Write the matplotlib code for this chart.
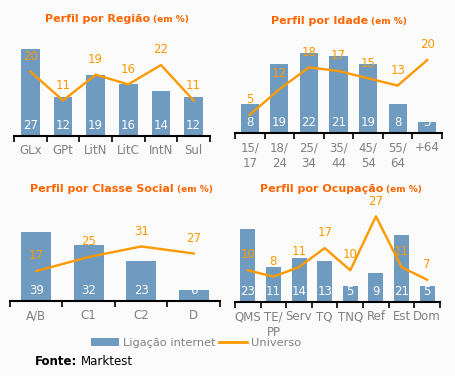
import numpy as np
import matplotlib.pyplot as plt
from matplotlib.patches import Patch
from matplotlib.lines import Line2D

# dados
regiao_cat = ['GLx', 'GPt', 'LitN', 'LitC', 'IntN', 'Sul']
regiao_net = [27, 12, 19, 16, 14, 12]
regiao_uni = [20, 11, 19, 16, 22, 11]

idade_cat = ['15/\n17', '18/\n24', '25/\n34', '35/\n44', '45/\n54', '55/\n64', '+64']
idade_net = [8, 19, 22, 21, 19, 8, 3]
idade_uni = [5, 12, 18, 17, 15, 13, 20]

classe_cat = ['A/B', 'C1', 'C2', 'D']
classe_net = [39, 32, 23, 6]
classe_uni = [17, 25, 31, 27]

ocup_cat = ['QMS', 'TE/\nPP', 'Serv', 'TQ', 'TNQ', 'Ref', 'Est', 'Dom']
ocup_net = [23, 11, 14, 13, 5, 9, 21, 5]
ocup_uni = [10, 8, 11, 17, 10, 27, 11, 7]

azul = '#6f9bc0'
laranja = '#ff9900'
titulo_cor = '#ff6600'
cinza = '#808080'
fundo = '#fbfbfb'

W, H = 456, 376
fig = plt.figure(figsize=(W / 100, H / 100), dpi=100, facecolor=fundo)
renderer = fig.canvas.get_renderer()


def px_axes(x0, x1, ytop, ybase):
    return fig.add_axes([x0 / W, 1 - ybase / H, (x1 - x0) / W, (ybase - ytop) / H])


def dois_textos(x, y, a, b, cor, tam_a, tam_b, peso_b):
    # texto em negrito seguido de texto menor, colocado logo a seguir
    t = fig.text(x / W, 1 - y / H, a, ha='left', va='baseline', color=cor,
                 fontsize=tam_a, fontweight='bold')
    bb = t.get_window_extent(renderer)
    fig.text((bb.x1 + 3) / W, 1 - y / H, b, ha='left', va='baseline', color=cor,
             fontsize=tam_b, fontweight=peso_b)


def painel(ax, cats, net, uni, ymax, largura, titulo, tx):
    n = len(cats)
    x = np.arange(n)
    ax.set_facecolor(fundo)
    ax.bar(x, net, width=largura, color=azul, zorder=1)
    ax.plot(x, uni, color=laranja, lw=1.7, zorder=2)
    for i in range(n):
        ax.annotate(str(net[i]), (x[i], 0), xytext=(0, 7.5), textcoords='offset points',
                    ha='center', va='center', color='white', fontsize=8.5, zorder=3)
        ax.annotate(str(uni[i]), (x[i], uni[i]), xytext=(0, 11), textcoords='offset points',
                    ha='center', va='center', color=laranja, fontsize=8.5, zorder=3)
    ax.set_xlim(-0.5, n - 0.5)
    ax.set_ylim(0, ymax)
    for s in ['top', 'right', 'left']:
        ax.spines[s].set_visible(False)
    ax.spines['bottom'].set_linewidth(1.5)
    ax.set_yticks([])
    ax.set_xticks(x)
    ax.set_xticklabels(cats, color=cinza, fontsize=8.5, linespacing=1.3)
    ax.tick_params(axis='x', which='major', length=0, pad=6)
    ax.set_xticks(np.arange(n + 1) - 0.5, minor=True)
    ax.tick_params(axis='x', which='minor', length=4, width=1.2, color='black')
    dois_textos(tx[0], tx[1], titulo, '(em %)', titulo_cor, 8, 6.5, 'bold')


ax1 = px_axes(14, 210, 36, 136)
painel(ax1, regiao_cat, regiao_net, regiao_uni, 31, 0.58, 'Perfil por Região', (45, 22))

ax2 = px_axes(235, 442, 40, 133)
painel(ax2, idade_cat, idade_net, idade_uni, 25.5, 0.61, 'Perfil por Idade', (271, 24))

ax3 = px_axes(10, 220, 210, 301)
painel(ax3, classe_cat, classe_net, classe_uni, 51.7, 0.57, 'Perfil por Classe Social', (30, 192))

ax4 = px_axes(235, 440, 210, 302)
painel(ax4, ocup_cat, ocup_net, ocup_uni, 29, 0.59, 'Perfil por Ocupação', (260, 192))

# legenda
handles = [Patch(facecolor=azul, edgecolor='none'), Line2D([], [], color=laranja, lw=2)]
leg = fig.legend(handles, ['Ligação internet', 'Universo'], loc='center',
                 bbox_to_anchor=(196 / W, 1 - 343 / H), ncol=2, frameon=False,
                 fontsize=8.2, handlelength=2.5, handleheight=0.6, handletextpad=0.3,
                 columnspacing=0.3, borderpad=0)
for t in leg.get_texts():
    t.set_color(cinza)

t = fig.text(35 / W, 1 - 365 / H, 'Fonte:', ha='left', va='baseline', fontsize=8.5,
             fontweight='bold', color='black')
bb = t.get_window_extent(renderer)
fig.text((bb.x1 + 4) / W, 1 - 365 / H, 'Marktest', ha='left', va='baseline',
         fontsize=8.5, color='black')

fig.savefig('out.png', dpi=100, facecolor=fundo)
